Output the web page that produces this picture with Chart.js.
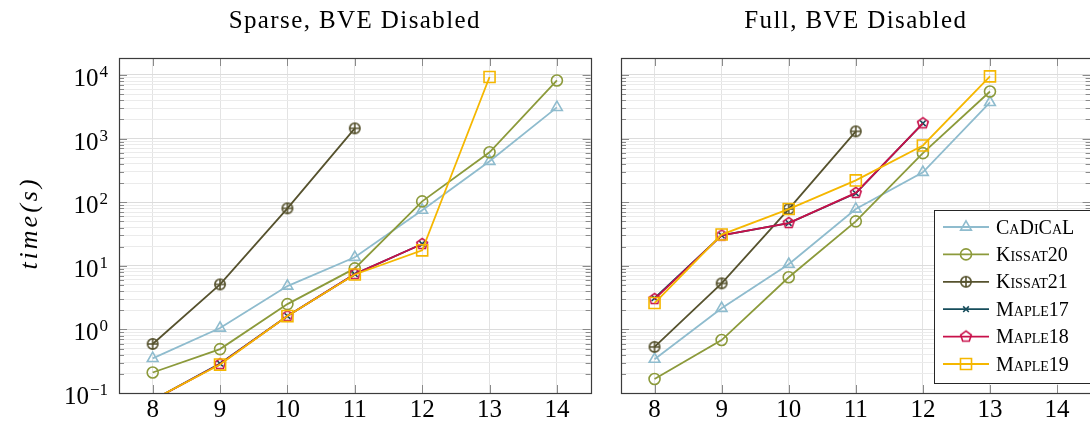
<!DOCTYPE html>
<html>
<head>
<meta charset="utf-8">
<script src="https://cdn.jsdelivr.net/npm/chart.js@4.4.1/dist/chart.umd.min.js"></script>
<style>
html, body { margin: 0; padding: 0; width: 1090px; height: 424px; overflow: hidden; background: #fff; }
#sparse { position: absolute; left: 0; top: 0; }
#full { position: absolute; left: 600px; top: 0; }
</style>
</head>
<body>
<canvas id="sparse" width="600" height="424"></canvas>
<canvas id="full" width="500" height="424"></canvas>
<script>
// problem sizes on the x axis
const sizes = ['8', '9', '10', '11', '12', '13', '14'];
const solvers = ['CaDiCaL', 'Kissat20', 'Kissat21', 'Maple17', 'Maple18', 'Maple19'];

// decades on the log axis, labelled 10^exp
const yMajor = [0.1, 1, 10, 100, 1000, 10000];
const yExponents = ['\u22121', '0', '1', '2', '3', '4'];
const yMin = 0.1;
const yMax = 18500;

// run times (s), sparse instances
const sparseCadical  = [0.35, 1.05, 4.8, 13.6, 75, 440, 3100];
const sparseKissat20 = [0.21, 0.49, 2.5, 9.1, 103, 610, 8200];
const sparseKissat21 = [0.59, 5.1, 80, 1450, null, null, null];
const sparseMaple17  = [0.077, 0.29, 1.62, 7.4, 22, null, null];
const sparseMaple18  = [0.077, 0.285, 1.62, 7.4, 22, null, null];
const sparseMaple19  = [0.078, 0.28, 1.62, 7.3, 17.5, 9300, null];

// run times (s), full instances
const fullCadical  = [0.34, 2.15, 10.6, 78, 295, 3700, null];
const fullKissat20 = [0.166, 0.68, 6.6, 50, 590, 5500, null];
const fullKissat21 = [0.53, 5.3, 78, 1300, null, null, null];
const fullMaple17  = [3.1, 30, 47, 138, 1740, null, null];
const fullMaple18  = [3.0, 30, 47, 140, 1740, null, null];
const fullMaple19  = [2.6, 31, 78, 220, 780, 9500, null];

const serif = '"Liberation Serif", "Times New Roman", serif';

function markerCanvas(color, draw) {
    const c = document.createElement('canvas');
    c.width = 16;
    c.height = 16;
    const g = c.getContext('2d');
    g.strokeStyle = color;
    g.lineWidth = 1.6;
    g.translate(8, 8);
    draw(g);
    return c;
}

const circlePlus = markerCanvas('#56522e', g => {
    g.beginPath();
    g.arc(0, 0, 5.2, 0, 2 * Math.PI);
    g.moveTo(-5.2, 0); g.lineTo(5.2, 0);
    g.moveTo(0, -5.2); g.lineTo(0, 5.2);
    g.stroke();
});

const pentagon = markerCanvas('#c8104a', g => {
    g.beginPath();
    for (let k = 0; k < 5; k++) {
        const t = -Math.PI / 2 + k * 2 * Math.PI / 5;
        g.lineTo(5.6 * Math.cos(t), 5.6 * Math.sin(t));
    }
    g.closePath();
    g.stroke();
});

const styles = [
    { color: '#8fbcce', pointStyle: 'triangle', radius: 6.2 },
    { color: '#8c9a3b', pointStyle: 'circle', radius: 5.5 },
    { color: '#56522e', pointStyle: circlePlus, radius: 6 },
    { color: '#164c5b', pointStyle: 'crossRot', radius: 4 },
    { color: '#c8104a', pointStyle: pentagon, radius: 6 },
    { color: '#f5b700', pointStyle: 'rect', radius: 7.8 }
];

function make_datasets(series) {
    return series.map((data, i) => ({
        label: solvers[i],
        data: data,
        borderColor: styles[i].color,
        borderWidth: 1.8,
        pointStyle: styles[i].pointStyle,
        pointRadius: styles[i].radius,
        pointHoverRadius: styles[i].radius,
        pointBorderColor: styles[i].color,
        pointBackgroundColor: 'rgba(0,0,0,0)',
        pointBorderWidth: 1.6,
        tension: 0,
        clip: 0,
        order: series.length - i
    }));
}

// every 1..9 x 10^n position, decades flagged as major
function log_ticks() {
    const ticks = [];
    yMajor.forEach((d, n) => {
        const top = n === yMajor.length - 1 ? 1 : 9;
        for (let k = 1; k <= top; k++) {
            const v = k === 1 ? d : k * d;
            if (v <= yMax) ticks.push({ value: v, major: k === 1 });
        }
    });
    return ticks;
}

function make_scales(yWidth) {
    return {
        x: {
            type: 'category',
            offset: true,
            grid: { offset: false, color: '#e3e3e3', drawTicks: false },
            border: { display: false },
            ticks: {
                autoSkip: false,
                maxRotation: 0,
                padding: 2,
                color: '#000',
                font: { family: serif, size: 25 }
            },
            afterFit: s => { s.height = 31; }
        },
        y: {
            type: 'logarithmic',
            min: yMin,
            max: yMax,
            grid: {
                drawTicks: false,
                color: c => (c.tick && c.tick.major) ? '#dcdcdc' : '#ebebeb'
            },
            border: { display: false },
            afterBuildTicks: s => { s.ticks = log_ticks(); },
            // labels are drawn by powerLabels so the exponent can be raised
            ticks: { display: false },
            afterFit: s => { s.width = yWidth; }
        }
    };
}

// frame and inward tick marks, pgfplots style
const frameTicks = {
    id: 'frameTicks',
    afterDatasetsDraw(chart) {
        const { ctx, chartArea: a, scales: { x, y } } = chart;
        ctx.save();
        ctx.lineWidth = 1;
        ctx.strokeStyle = '#8a8a8a';
        ctx.beginPath();
        sizes.forEach((s, i) => {
            const px = Math.round(x.getPixelForValue(i)) + 0.5;
            ctx.moveTo(px, a.top); ctx.lineTo(px, a.top + 8);
            ctx.moveTo(px, a.bottom); ctx.lineTo(px, a.bottom - 8);
        });
        y.ticks.forEach(t => {
            const py = Math.round(y.getPixelForValue(t.value)) + 0.5;
            const len = t.major ? 8 : 5;
            ctx.moveTo(a.left, py); ctx.lineTo(a.left + len, py);
            ctx.moveTo(a.right, py); ctx.lineTo(a.right - len, py);
        });
        ctx.stroke();
        ctx.strokeStyle = '#3c3c3c';
        ctx.lineWidth = 1.2;
        ctx.strokeRect(Math.round(a.left) + 0.5, Math.round(a.top) + 0.5,
            Math.round(a.right - a.left), Math.round(a.bottom - a.top));
        ctx.restore();
    }
};

// "10" with a raised exponent at each decade
const powerLabels = {
    id: 'powerLabels',
    afterDraw(chart, args, opts) {
        if (!opts.show) return;
        const { ctx, chartArea: a, scales: { y } } = chart;
        ctx.save();
        ctx.fillStyle = '#000';
        ctx.textBaseline = 'alphabetic';
        yMajor.forEach((v, i) => {
            const py = y.getPixelForValue(v);
            const right = a.left - 11;
            ctx.font = '17px ' + serif;
            ctx.textAlign = 'right';
            const expW = ctx.measureText(yExponents[i]).width;
            ctx.fillText(yExponents[i], right, py + 2);
            ctx.font = '25px ' + serif;
            ctx.fillText('10', right - expW - 1, py + 11);
        });
        ctx.restore();
    }
};

const panelTitle = {
    id: 'panelTitle',
    afterDraw(chart, args, opts) {
        const { ctx, chartArea: a } = chart;
        ctx.save();
        ctx.font = '25px ' + serif;
        ctx.letterSpacing = '1.4px';
        ctx.fillStyle = '#000';
        ctx.textAlign = 'center';
        ctx.textBaseline = 'alphabetic';
        ctx.fillText(opts.text, (a.left + a.right) / 2, 28);
        if (opts.yTitle) {
            ctx.translate(37, 223);
            ctx.rotate(-Math.PI / 2);
            ctx.font = 'italic 26px ' + serif;
            ctx.letterSpacing = '3px';
            ctx.fillText(opts.yTitle, 0, 0);
        }
        ctx.restore();
    }
};

const boxLegend = {
    id: 'boxLegend',
    afterDraw(chart, args, opts) {
        if (!opts.show) return;
        const ctx = chart.ctx;
        const { left, top, width, height, rowStart, rowStep } = opts;
        ctx.save();
        ctx.fillStyle = '#fff';
        ctx.fillRect(left, top, width, height);
        ctx.strokeStyle = '#262626';
        ctx.lineWidth = 1;
        ctx.strokeRect(left + 0.5, top + 0.5, width, height);
        chart.data.datasets.forEach((ds, i) => {
            const ry = top + rowStart + i * rowStep;
            ctx.strokeStyle = ds.borderColor;
            ctx.lineWidth = ds.borderWidth;
            ctx.beginPath();
            ctx.moveTo(left + 9, ry);
            ctx.lineTo(left + 55, ry);
            ctx.stroke();
            ctx.lineWidth = ds.pointBorderWidth;
            ctx.fillStyle = 'rgba(0,0,0,0)';
            Chart.helpers.drawPoint(ctx, {
                pointStyle: ds.pointStyle,
                radius: ds.pointRadius,
                borderWidth: ds.pointBorderWidth,
                rotation: 0
            }, left + 32, ry);
            ctx.fillStyle = '#000';
            ctx.font = 'small-caps 20px ' + serif;
            ctx.fontVariantCaps = 'small-caps';
            ctx.textAlign = 'left';
            ctx.textBaseline = 'alphabetic';
            ctx.fillText(ds.label, left + 62, ry + 6.5);
        });
        ctx.restore();
    }
};

function render_panel(id, series, title, opts) {
    return new Chart(document.getElementById(id), {
        type: 'line',
        data: { labels: sizes, datasets: make_datasets(series) },
        options: {
            responsive: false,
            animation: false,
            events: [],
            layout: { padding: { top: 58, right: opts.padRight, bottom: 0, left: 0 } },
            scales: make_scales(opts.yWidth),
            plugins: {
                legend: { display: false },
                tooltip: { enabled: false },
                panelTitle: { text: title, yTitle: opts.yTitle },
                powerLabels: { show: opts.showLabels },
                boxLegend: opts.legend || { show: false }
            }
        },
        plugins: [frameTicks, powerLabels, panelTitle, boxLegend]
    });
}

function render_all() {
    render_panel('sparse',
        [sparseCadical, sparseKissat20, sparseKissat21, sparseMaple17, sparseMaple18, sparseMaple19],
        'Sparse, BVE Disabled',
        { showLabels: true, yWidth: 119, padRight: 7, yTitle: 'time(s)' });

    render_panel('full',
        [fullCadical, fullKissat20, fullKissat21, fullMaple17, fullMaple18, fullMaple19],
        'Full, BVE Disabled',
        {
            showLabels: false, yWidth: 21, padRight: 5,
            legend: { show: true, left: 334, top: 210, width: 162, height: 173, rowStart: 17, rowStep: 27.4 }
        });
}

// make sure the serif face is ready before the canvases are painted
Promise.all([
    document.fonts.load('25px "Liberation Serif"'),
    document.fonts.load('italic 26px "Liberation Serif"')
]).then(render_all, render_all);
</script>
</body>
</html>
